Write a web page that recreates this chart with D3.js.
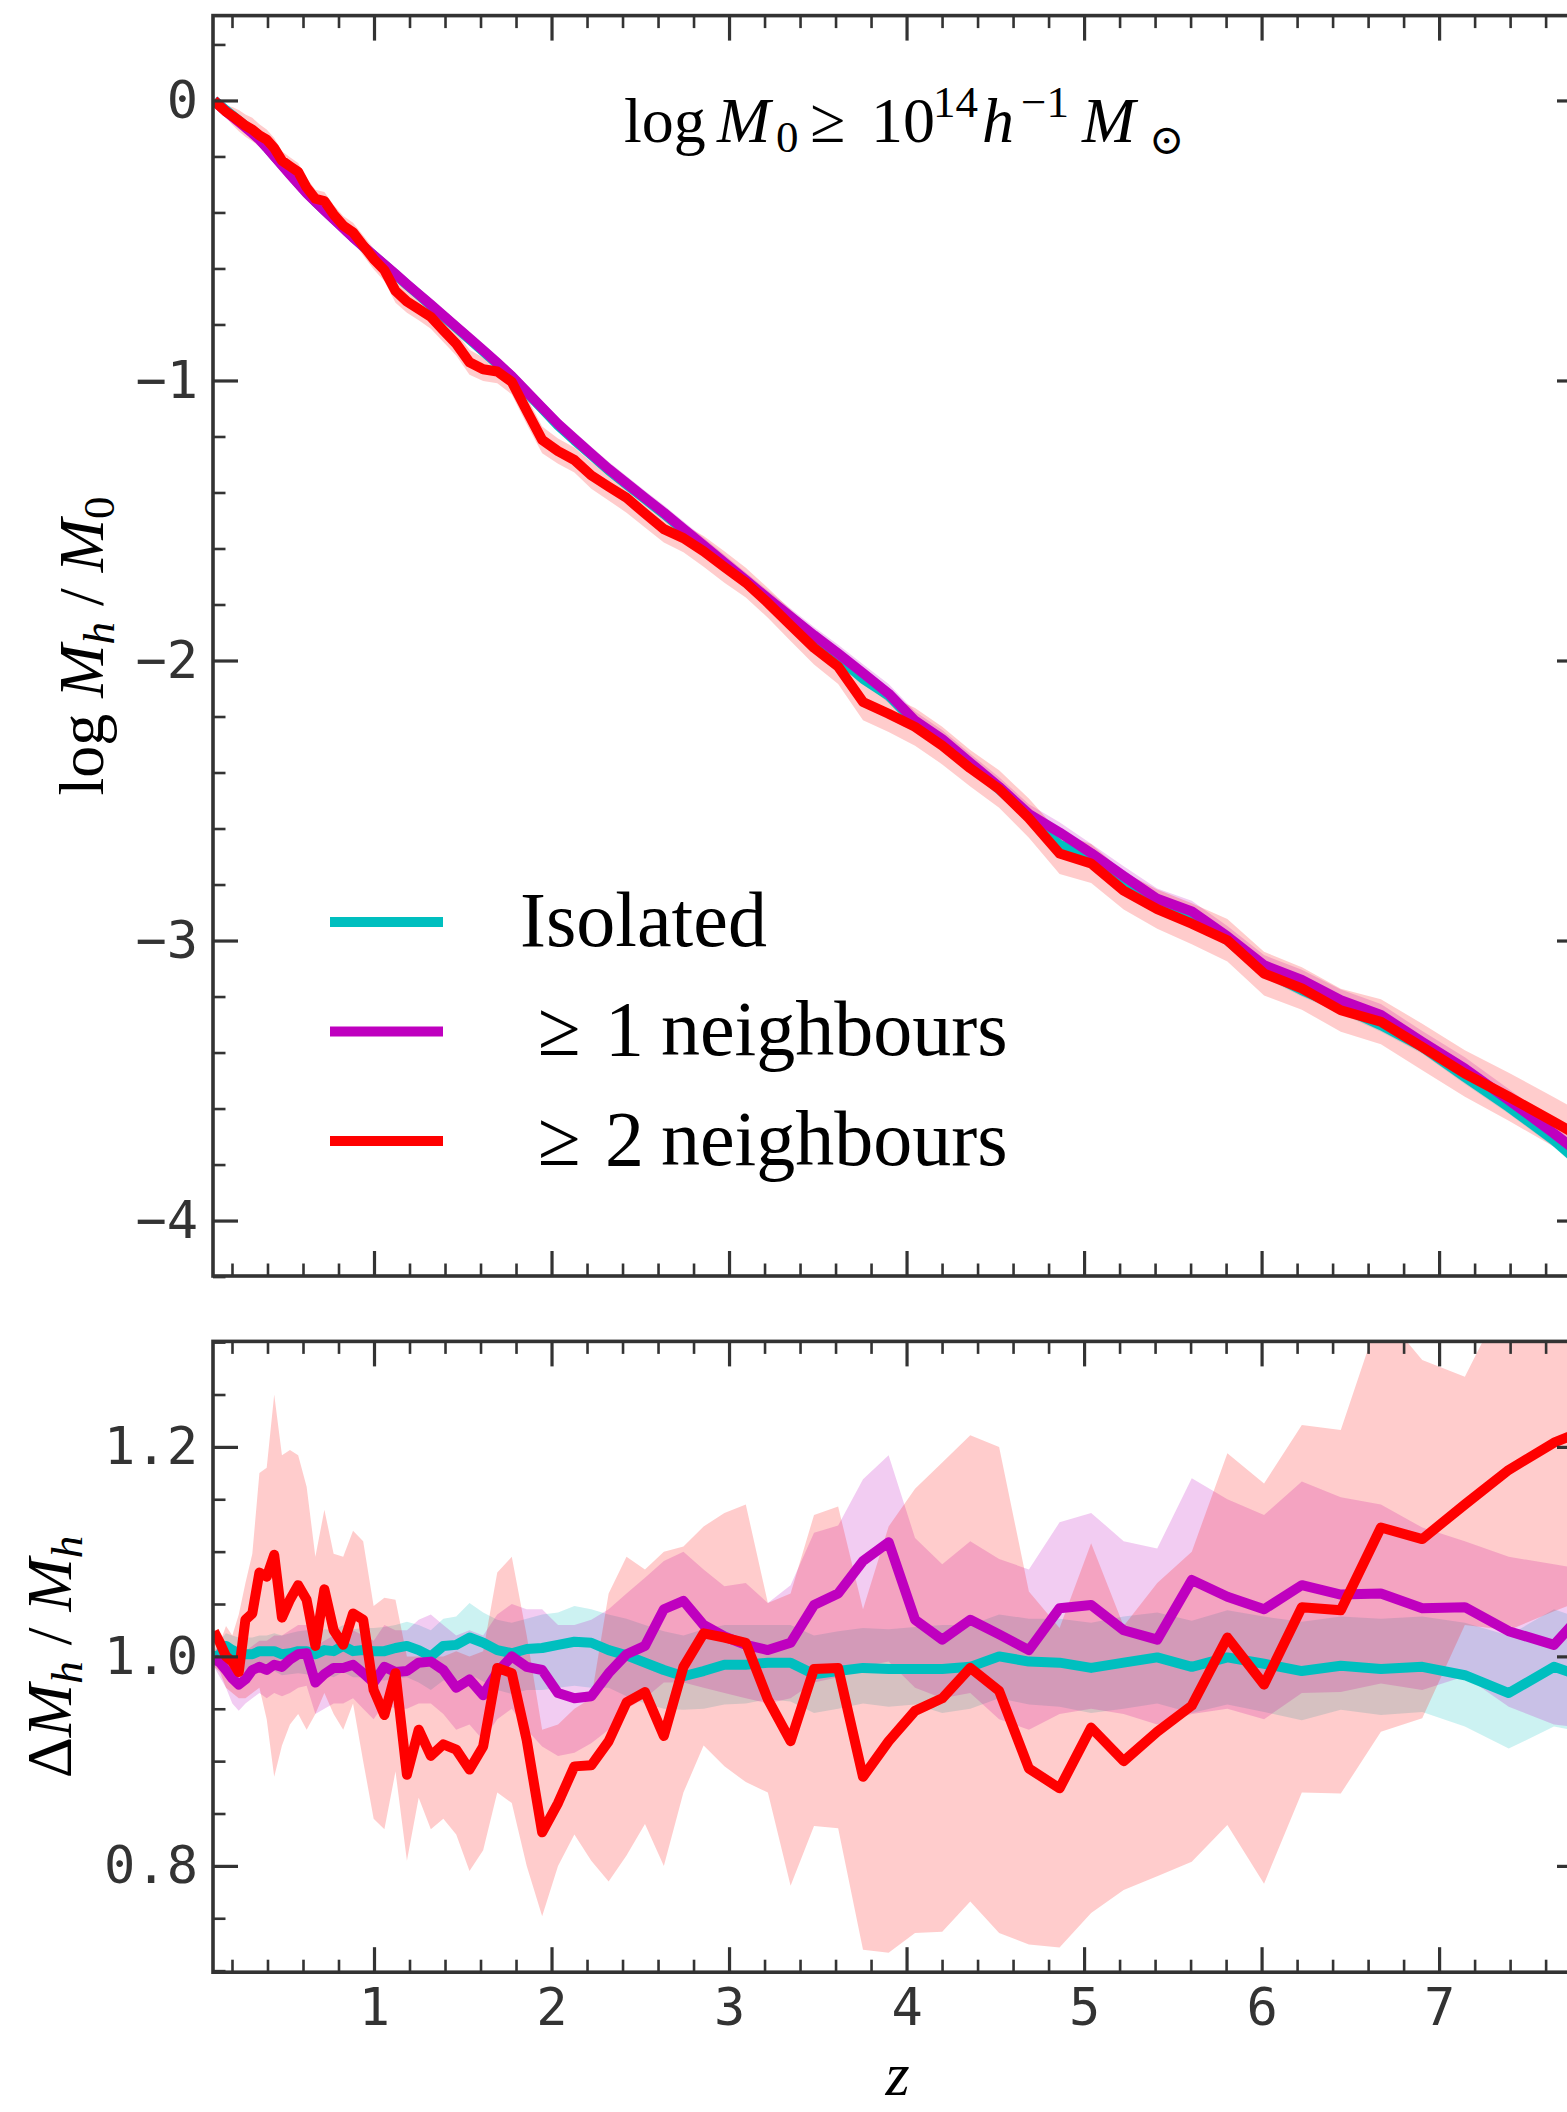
<!DOCTYPE html>
<html>
<head>
<meta charset="utf-8">
<script src="https://cdn.jsdelivr.net/npm/d3@7"></script>
<style>
  html, body { margin: 0; padding: 0; background: #fff; overflow: hidden; }
  svg { display: block; }
</style>
</head>
<body>
<svg id="fig" width="1567" height="2112"></svg>
<script>
// Snapshot redshifts of the merger-tree outputs
const redshift = [0.0986, 0.1319, 0.1663, 0.2017, 0.2382, 0.2757, 0.3145, 0.3544, 0.3955, 0.4378,
  0.4815, 0.5265, 0.5728, 0.6205, 0.6697, 0.7204, 0.7726, 0.8265, 0.8819, 0.9390,
  0.9979, 1.0585, 1.1210, 1.1854, 1.2517, 1.3201, 1.3905, 1.4631, 1.5379, 1.6149,
  1.6943, 1.7761, 1.8603, 1.9472, 2.0366, 2.1288, 2.2238, 2.3217, 2.4225, 2.5264,
  2.6328, 2.7431, 2.8567, 2.9738, 3.0944, 3.2187, 3.3467, 3.4787, 3.6146, 3.7547,
  3.8990, 4.0478, 4.2010, 4.3589, 4.5215, 4.6892, 4.8619, 5.0398, 5.2231, 5.4121,
  5.6067, 5.8073, 6.0139, 6.2268, 6.4462, 6.6722, 6.9051, 7.1451, 7.3923, 7.6471, 7.9096];

// Legend names, one per sample
const seriesNames = ["Isolated", "≥ 1 neighbours", "≥ 2 neighbours"];

// Upper panel: mean log(M_h / M_0) and its scatter
const topIsolated = [0.000, -0.017, -0.035, -0.053, -0.072, -0.091, -0.112, -0.137, -0.167, -0.198,
  -0.229, -0.262, -0.295, -0.329, -0.361, -0.392, -0.423, -0.454, -0.488, -0.521,
  -0.554, -0.587, -0.622, -0.658, -0.694, -0.732, -0.771, -0.811, -0.853, -0.896,
  -0.940, -0.987, -1.043, -1.100, -1.160, -1.213, -1.265, -1.320, -1.371, -1.423,
  -1.476, -1.535, -1.594, -1.656, -1.720, -1.786, -1.852, -1.920, -1.990, -2.065,
  -2.125, -2.220, -2.290, -2.370, -2.460, -2.555, -2.659, -2.700, -2.780, -2.860,
  -2.910, -2.999, -3.110, -3.177, -3.237, -3.302, -3.380, -3.487, -3.594, -3.713, -3.860];
const topOneNb = [0.000, -0.020, -0.040, -0.058, -0.077, -0.096, -0.117, -0.140, -0.168, -0.199,
  -0.231, -0.264, -0.297, -0.331, -0.362, -0.393, -0.424, -0.456, -0.489, -0.521,
  -0.553, -0.586, -0.620, -0.656, -0.692, -0.729, -0.768, -0.808, -0.849, -0.892,
  -0.937, -0.985, -1.040, -1.097, -1.155, -1.208, -1.262, -1.316, -1.367, -1.419,
  -1.472, -1.530, -1.589, -1.650, -1.713, -1.778, -1.843, -1.910, -1.975, -2.045,
  -2.118, -2.215, -2.281, -2.365, -2.451, -2.548, -2.614, -2.688, -2.770, -2.851,
  -2.896, -2.985, -3.088, -3.141, -3.213, -3.266, -3.362, -3.457, -3.570, -3.689, -3.820];
const topTwoNb = [0.000, -0.020, -0.040, -0.055, -0.072, -0.090, -0.104, -0.125, -0.140, -0.170,
  -0.215, -0.235, -0.255, -0.311, -0.351, -0.359, -0.407, -0.447, -0.471, -0.518,
  -0.566, -0.606, -0.680, -0.718, -0.745, -0.773, -0.821, -0.869, -0.935, -0.960,
  -0.968, -1.005, -1.108, -1.212, -1.252, -1.284, -1.339, -1.379, -1.419, -1.475,
  -1.531, -1.563, -1.610, -1.666, -1.722, -1.794, -1.874, -1.955, -2.022, -2.148,
  -2.190, -2.237, -2.304, -2.385, -2.459, -2.563, -2.689, -2.725, -2.822, -2.888,
  -2.940, -2.999, -3.118, -3.171, -3.249, -3.290, -3.380, -3.475, -3.558, -3.648, -3.740];
const topIsolatedSpread = [0.000, 0.004, 0.005, 0.006, 0.006, 0.007, 0.007, 0.008, 0.008, 0.008,
  0.009, 0.009, 0.009, 0.010, 0.010, 0.010, 0.011, 0.011, 0.011, 0.011,
  0.012, 0.012, 0.012, 0.012, 0.013, 0.013, 0.013, 0.014, 0.014, 0.014,
  0.014, 0.015, 0.015, 0.015, 0.015, 0.016, 0.016, 0.016, 0.017, 0.017,
  0.017, 0.017, 0.018, 0.018, 0.018, 0.018, 0.019, 0.019, 0.019, 0.019,
  0.020, 0.020, 0.020, 0.021, 0.021, 0.021, 0.021, 0.022, 0.022, 0.022,
  0.022, 0.023, 0.023, 0.023, 0.024, 0.024, 0.024, 0.025, 0.025, 0.025, 0.026];
const topOneNbSpread = [0.000, 0.006, 0.008, 0.010, 0.011, 0.012, 0.012, 0.013, 0.012, 0.013,
  0.013, 0.014, 0.014, 0.015, 0.015, 0.015, 0.016, 0.016, 0.016, 0.017,
  0.017, 0.018, 0.018, 0.018, 0.019, 0.019, 0.020, 0.020, 0.020, 0.021,
  0.021, 0.022, 0.024, 0.023, 0.024, 0.025, 0.025, 0.026, 0.026, 0.025,
  0.026, 0.027, 0.027, 0.028, 0.027, 0.028, 0.029, 0.030, 0.031, 0.032,
  0.034, 0.033, 0.033, 0.032, 0.034, 0.035, 0.036, 0.034, 0.035, 0.037,
  0.038, 0.037, 0.036, 0.037, 0.038, 0.039, 0.039, 0.040, 0.040, 0.041, 0.042];
const topTwoNbSpread = [0.000, 0.015, 0.022, 0.032, 0.038, 0.040, 0.042, 0.040, 0.036, 0.036,
  0.034, 0.032, 0.032, 0.034, 0.032, 0.032, 0.034, 0.034, 0.034, 0.036,
  0.037, 0.040, 0.042, 0.040, 0.040, 0.042, 0.042, 0.042, 0.045, 0.042,
  0.042, 0.045, 0.048, 0.048, 0.045, 0.045, 0.048, 0.050, 0.053, 0.050,
  0.048, 0.050, 0.055, 0.056, 0.053, 0.053, 0.056, 0.059, 0.062, 0.065,
  0.065, 0.067, 0.067, 0.065, 0.067, 0.070, 0.073, 0.070, 0.067, 0.070,
  0.073, 0.076, 0.078, 0.076, 0.077, 0.080, 0.083, 0.083, 0.086, 0.088, 0.090];

// Lower panel: mass ratio with its 1-sigma range
const ratioIsolated = [1.000, 1.002, 1.010, 1.006, 1.003, 1.002, 1.002, 1.005, 1.005, 1.005,
  1.002, 1.003, 1.005, 1.005, 1.002, 1.006, 1.005, 1.010, 1.005, 1.006,
  1.005, 1.005, 1.008, 1.010, 1.006, 1.000, 1.010, 1.011, 1.018, 1.013,
  1.006, 1.003, 1.007, 1.008, 1.011, 1.014, 1.013, 1.006, 1.001, 0.994,
  0.987, 0.981, 0.986, 0.992, 0.992, 0.994, 0.994, 0.983, 0.986, 0.989,
  0.988, 0.988, 0.988, 0.990, 1.000, 0.995, 0.994, 0.989, 0.994, 0.999,
  0.990, 0.999, 0.993, 0.986, 0.991, 0.988, 0.990, 0.982, 0.965, 0.990, 0.975];
const ratioIsolatedHi = [1.005, 1.015, 1.022, 1.020, 1.018, 1.018, 1.018, 1.020, 1.020, 1.022,
  1.020, 1.022, 1.024, 1.025, 1.022, 1.026, 1.025, 1.030, 1.026, 1.027,
  1.027, 1.028, 1.030, 1.033, 1.030, 1.025, 1.036, 1.038, 1.051, 1.042,
  1.035, 1.032, 1.036, 1.040, 1.042, 1.048, 1.045, 1.040, 1.036, 1.030,
  1.024, 1.020, 1.026, 1.030, 1.030, 1.030, 1.030, 1.020, 1.024, 1.027,
  1.026, 1.028, 1.030, 1.030, 1.040, 1.036, 1.036, 1.032, 1.038, 1.042,
  1.034, 1.044, 1.038, 1.033, 1.038, 1.036, 1.038, 1.032, 1.020, 1.045, 1.030];
const ratioIsolatedLo = [0.995, 0.990, 0.996, 0.990, 0.986, 0.985, 0.985, 0.987, 0.986, 0.986,
  0.982, 0.983, 0.984, 0.983, 0.979, 0.983, 0.980, 0.985, 0.980, 0.980,
  0.978, 0.977, 0.979, 0.980, 0.975, 0.968, 0.977, 0.977, 0.983, 0.976,
  0.968, 0.964, 0.968, 0.968, 0.970, 0.972, 0.970, 0.970, 0.962, 0.955,
  0.950, 0.949, 0.950, 0.954, 0.955, 0.959, 0.957, 0.946, 0.950, 0.955,
  0.952, 0.954, 0.946, 0.950, 0.960, 0.954, 0.952, 0.946, 0.950, 0.955,
  0.946, 0.954, 0.947, 0.939, 0.949, 0.944, 0.947, 0.933, 0.912, 0.933, 0.925];

const ratioOneNb = [0.998, 0.994, 0.987, 0.979, 0.973, 0.978, 0.987, 0.990, 0.987, 0.992,
  0.990, 0.997, 1.002, 1.003, 0.975, 0.983, 0.989, 0.989, 0.992, 0.984,
  0.975, 0.990, 0.985, 0.986, 0.994, 0.995, 0.987, 0.970, 0.978, 0.963,
  0.985, 1.000, 0.990, 0.987, 0.965, 0.960, 0.962, 0.984, 1.002, 1.010,
  1.045, 1.053, 1.030, 1.019, 1.011, 1.006, 1.013, 1.049, 1.060, 1.091,
  1.109, 1.035, 1.016, 1.035, 1.021, 1.006, 1.046, 1.049, 1.025, 1.016,
  1.073, 1.057, 1.045, 1.068, 1.059, 1.060, 1.046, 1.047, 1.024, 1.011, 1.060];
const ratioOneNbHi = [1.005, 1.010, 1.010, 1.005, 1.000, 1.005, 1.010, 1.015, 1.015, 1.020,
  1.020, 1.025, 1.030, 1.030, 1.010, 1.015, 1.020, 1.020, 1.025, 1.020,
  1.015, 1.030, 1.025, 1.025, 1.035, 1.040, 1.030, 1.020, 1.025, 1.020,
  1.040, 1.050, 1.045, 1.045, 1.030, 1.030, 1.035, 1.045, 1.060, 1.075,
  1.091, 1.100, 1.083, 1.067, 1.070, 1.051, 1.068, 1.118, 1.125, 1.169,
  1.192, 1.113, 1.088, 1.110, 1.093, 1.083, 1.128, 1.137, 1.110, 1.103,
  1.170, 1.150, 1.135, 1.167, 1.152, 1.145, 1.123, 1.110, 1.095, 1.088, 1.080];
const ratioOneNbLo = [0.990, 0.980, 0.970, 0.955, 0.948, 0.955, 0.960, 0.965, 0.960, 0.965,
  0.962, 0.965, 0.970, 0.972, 0.945, 0.950, 0.955, 0.955, 0.960, 0.950,
  0.940, 0.955, 0.950, 0.950, 0.955, 0.955, 0.945, 0.930, 0.935, 0.920,
  0.940, 0.950, 0.930, 0.914, 0.905, 0.908, 0.917, 0.930, 0.950, 0.960,
  0.975, 0.975, 0.970, 0.965, 0.960, 0.955, 0.960, 0.975, 0.980, 0.990,
  0.995, 0.970, 0.960, 0.965, 0.940, 0.930, 0.945, 0.950, 0.945, 0.935,
  0.945, 0.950, 0.940, 0.965, 0.966, 0.974, 0.968, 0.981, 0.952, 0.935, 0.930];

const ratioTwoNb = [1.024, 1.013, 1.000, 0.995, 0.985, 1.035, 1.041, 1.080, 1.076, 1.097,
  1.037, 1.054, 1.068, 1.054, 1.010, 1.064, 1.025, 1.011, 1.041, 1.035,
  0.968, 0.944, 0.984, 0.887, 0.930, 0.905, 0.916, 0.911, 0.892, 0.914,
  0.989, 0.984, 0.920, 0.832, 0.860, 0.895, 0.896, 0.919, 0.956, 0.966,
  0.924, 0.990, 1.022, 1.018, 1.013, 0.959, 0.919, 0.988, 0.989, 0.885,
  0.919, 0.948, 0.960, 0.989, 0.967, 0.893, 0.874, 0.932, 0.900, 0.928,
  0.953, 1.018, 0.973, 1.047, 1.044, 1.123, 1.112, 1.145, 1.178, 1.204, 1.222];
const ratioTwoNbHi = [1.027, 1.013, 1.029, 1.020, 1.040, 1.070, 1.098, 1.175, 1.180, 1.250,
  1.192, 1.197, 1.192, 1.162, 1.095, 1.140, 1.098, 1.095, 1.120, 1.110,
  1.048, 1.056, 1.054, 1.000, 1.000, 1.000, 1.000, 1.005, 1.000, 1.005,
  1.080, 1.095, 1.020, 0.930, 0.935, 0.950, 0.960, 1.060, 1.095, 1.083,
  1.100, 1.105, 1.124, 1.137, 1.145, 1.051, 1.060, 1.135, 1.143, 1.045,
  1.124, 1.160, 1.185, 1.211, 1.200, 1.062, 1.027, 1.108, 1.029, 1.070,
  1.100, 1.194, 1.165, 1.221, 1.216, 1.330, 1.283, 1.267, 1.350, 1.380, 1.400];
const ratioTwoNbLo = [0.990, 0.985, 0.970, 0.965, 0.960, 0.960, 0.965, 0.970, 0.940, 0.885,
  0.915, 0.935, 0.945, 0.930, 0.945, 0.965, 0.945, 0.930, 0.955, 0.900,
  0.845, 0.835, 0.890, 0.805, 0.865, 0.835, 0.845, 0.830, 0.795, 0.815,
  0.870, 0.860, 0.800, 0.752, 0.800, 0.830, 0.805, 0.785, 0.810, 0.840,
  0.800, 0.870, 0.915, 0.895, 0.880, 0.870, 0.781, 0.838, 0.836, 0.720,
  0.717, 0.736, 0.737, 0.766, 0.736, 0.725, 0.722, 0.755, 0.777, 0.790,
  0.804, 0.839, 0.783, 0.870, 0.869, 0.928, 0.941, 1.030, 1.025, 1.043, 1.060];

// Tick values
const xMajorTicks = [1, 2, 3, 4, 5, 6, 7];
const topYTicks = [0, -1, -2, -3, -4];
const bottomYTicks = [0.8, 1.0, 1.2];

// ---------------------------------------------------------------------------
const svg = d3.select("#fig");
svg.append("rect").attr("width", 1567).attr("height", 2112).attr("fill", "#fff");

const INK = "#333333";
const SERIF = "'Liberation Serif', 'DejaVu Serif', serif";
const MONO = "'DejaVu Sans Mono', monospace";
const colors = ["#00bfbf", "#bf00bf", "#ff0000"];
const LINE_W = 10;

const axLeft = 213, axRight = 1582;
const x = d3.scaleLinear().domain([0.093, 7.805]).range([axLeft, axRight]);

const upper = {
  id: "upper", top: 15.6, bottom: 1276,
  y: d3.scaleLinear().domain([0.303, -4.198]).range([15.6, 1276]),
  major: topYTicks,
  minor: d3.range(-21, 2).map(k => k * 0.2).filter(v => Math.abs(v - Math.round(v)) > 1e-6),
  fmt: d => d === 0 ? "0" : "\u2212" + Math.abs(d),
  xLabels: false,
  series: [
    { mean: topIsolated, lo: topIsolated.map((v, i) => v - topIsolatedSpread[i]), hi: topIsolated.map((v, i) => v + topIsolatedSpread[i]) },
    { mean: topOneNb, lo: topOneNb.map((v, i) => v - topOneNbSpread[i]), hi: topOneNb.map((v, i) => v + topOneNbSpread[i]) },
    { mean: topTwoNb, lo: topTwoNb.map((v, i) => v - topTwoNbSpread[i]), hi: topTwoNb.map((v, i) => v + topTwoNbSpread[i]) }
  ]
};

const lower = {
  id: "lower", top: 1341.4, bottom: 1972.2,
  y: d3.scaleLinear().domain([1.3007, 0.6985]).range([1341.4, 1972.2]),
  major: bottomYTicks,
  minor: d3.range(14, 27).map(k => k * 0.05).filter(v => Math.abs(v * 5 - Math.round(v * 5)) > 1e-6),
  fmt: d3.format(".1f"),
  xLabels: true,
  series: [
    { mean: ratioIsolated, lo: ratioIsolatedLo, hi: ratioIsolatedHi },
    { mean: ratioOneNb, lo: ratioOneNbLo, hi: ratioOneNbHi },
    { mean: ratioTwoNb, lo: ratioTwoNbLo, hi: ratioTwoNbHi }
  ]
};

const xMinorTicks = d3.range(1, 40).map(k => k * 0.2)
  .filter(v => Math.abs(v - Math.round(v)) > 1e-6 && v <= 7.805);

function drawData(p) {
  svg.append("clipPath").attr("id", "clip-" + p.id)
    .append("rect").attr("x", axLeft).attr("y", p.top)
    .attr("width", axRight - axLeft).attr("height", p.bottom - p.top);
  const g = svg.append("g").attr("clip-path", `url(#clip-${p.id})`);

  const area = d3.area()
    .x(d => x(d.z)).y0(d => p.y(d.lo)).y1(d => p.y(d.hi));
  const line = d3.line().x(d => x(d.z)).y(d => p.y(d.v));

  p.series.forEach((s, k) => {
    const pts = redshift.map((z, i) => ({ z, lo: s.lo[i], hi: s.hi[i] }));
    g.append("path").datum(pts).attr("d", area)
      .attr("fill", colors[k]).attr("fill-opacity", 0.2).attr("stroke", "none");
  });
  p.series.forEach((s, k) => {
    const pts = redshift.map((z, i) => ({ z, v: s.mean[i] }));
    g.append("path").datum(pts).attr("d", line)
      .attr("fill", "none").attr("stroke", colors[k]).attr("stroke-width", LINE_W)
      .attr("stroke-linejoin", "round").attr("stroke-linecap", "butt");
  });
}

function styleAxis(sel, width) {
  sel.select(".domain").remove();
  sel.attr("font-family", null).attr("font-size", null);
  sel.selectAll(".tick line").attr("stroke", INK).attr("stroke-width", width);
  sel.selectAll(".tick text").attr("fill", INK)
    .style("font-family", MONO).style("font-size", "52px");
}

function drawAxes(p) {
  const g = svg.append("g");
  const h = p.bottom - p.top;
  const W = axRight - axLeft;
  // x: bottom and top, major and minor (ticks point inward)
  styleAxis(g.append("g").attr("transform", `translate(0,${p.bottom})`)
    .call(d3.axisBottom(x).tickValues(xMajorTicks).tickSize(-25).tickPadding(16)
      .tickFormat(p.xLabels ? (d => String(d)) : "")), 3.2);
  styleAxis(g.append("g").attr("transform", `translate(0,${p.bottom})`)
    .call(d3.axisBottom(x).tickValues(xMinorTicks).tickSize(-12.5).tickFormat("")), 2.6);
  styleAxis(g.append("g").attr("transform", `translate(0,${p.top})`)
    .call(d3.axisTop(x).tickValues(xMajorTicks).tickSize(-25).tickFormat("")), 3.2);
  styleAxis(g.append("g").attr("transform", `translate(0,${p.top})`)
    .call(d3.axisTop(x).tickValues(xMinorTicks).tickSize(-12.5).tickFormat("")), 2.6);
  // y: left and right
  styleAxis(g.append("g").attr("transform", `translate(${axLeft},0)`)
    .call(d3.axisLeft(p.y).tickValues(p.major).tickSize(-25).tickPadding(15).tickFormat(p.fmt)), 3.2);
  styleAxis(g.append("g").attr("transform", `translate(${axLeft},0)`)
    .call(d3.axisLeft(p.y).tickValues(p.minor).tickSize(-12.5).tickFormat("")), 2.6);
  styleAxis(g.append("g").attr("transform", `translate(${axRight},0)`)
    .call(d3.axisRight(p.y).tickValues(p.major).tickSize(-25).tickFormat("")), 3.2);
  styleAxis(g.append("g").attr("transform", `translate(${axRight},0)`)
    .call(d3.axisRight(p.y).tickValues(p.minor).tickSize(-12.5).tickFormat("")), 2.6);
  // frame
  g.append("rect").attr("x", axLeft).attr("y", p.top).attr("width", W).attr("height", h)
    .attr("fill", "none").attr("stroke", INK).attr("stroke-width", 3.6);
}

drawData(upper);
drawAxes(upper);
drawData(lower);
drawAxes(lower);

// ---- mass-cut annotation -------------------------------------------------
const ann = svg.append("text").attr("font-family", SERIF).attr("font-size", 64).attr("fill", "#000");
[
  { t: "log", x: 624, y: 142 },
  { t: "M", x: 717, y: 142, it: true },
  { t: "0", x: 776, y: 152, fs: 45 },
  { t: "\u2265", x: 810, y: 142 },
  { t: "10", x: 871, y: 142 },
  { t: "14", x: 933, y: 117, fs: 45 },
  { t: "h", x: 982, y: 142, it: true },
  { t: "\u22121", x: 1021, y: 117, fs: 45 },
  { t: "M", x: 1082, y: 142, it: true },
  { t: "\u2299", x: 1149, y: 154, fs: 42 }
].forEach(d => {
  ann.append("tspan").attr("x", d.x).attr("y", d.y).text(d.t)
    .attr("font-style", d.it ? "italic" : null)
    .attr("font-size", d.fs || null);
});

// ---- legend ----------------------------------------------------------------
const legend = svg.append("g");
const legendRows = seriesNames.map((name, k) => ({ name, k, ly: 922 + 109.5 * k }));
legend.selectAll("line").data(legendRows).join("line")
  .attr("x1", 330).attr("x2", 443)
  .attr("y1", d => d.ly).attr("y2", d => d.ly)
  .attr("stroke", d => colors[d.k]).attr("stroke-width", LINE_W);
legendRows.forEach(d => {
  const t = legend.append("text").attr("font-family", SERIF).attr("font-size", 78).attr("fill", "#000");
  const words = d.name.split(" ");
  const xs = words.length === 1 ? [520] : [538, 605, 661];
  words.forEach((w, j) => t.append("tspan").attr("x", xs[j]).attr("y", d.ly + 23.5).text(w));
});

// ---- axis labels -------------------------------------------------------------
function mathLabel(cx, cy, parts) {
  const t = svg.append("text")
    .attr("transform", `translate(${cx},${cy}) rotate(-90)`)
    .attr("text-anchor", "middle").attr("font-family", SERIF)
    .attr("font-size", 64).attr("fill", "#000");
  let shift = 0;
  parts.forEach(p => {
    const target = p.sub ? 11 : 0;
    t.append("tspan").text(p.t)
      .attr("dy", target - shift)
      .attr("font-style", p.it ? "italic" : null)
      .attr("font-size", p.sub ? 45 : null);
    shift = target;
  });
}
mathLabel(103, 646, [
  { t: "log " }, { t: "M", it: true }, { t: "h", it: true, sub: true },
  { t: " / " }, { t: "M", it: true }, { t: "0", sub: true }
]);
mathLabel(71, 1657, [
  { t: "\u0394" }, { t: "M", it: true }, { t: "h", it: true, sub: true },
  { t: " / " }, { t: "M", it: true }, { t: "h", it: true, sub: true }
]);
svg.append("text").attr("x", (axLeft + axRight) / 2).attr("y", 2095)
  .attr("text-anchor", "middle").attr("font-family", SERIF)
  .attr("font-style", "italic").attr("font-size", 62).attr("fill", "#000").text("z");
</script>
</body>
</html>
